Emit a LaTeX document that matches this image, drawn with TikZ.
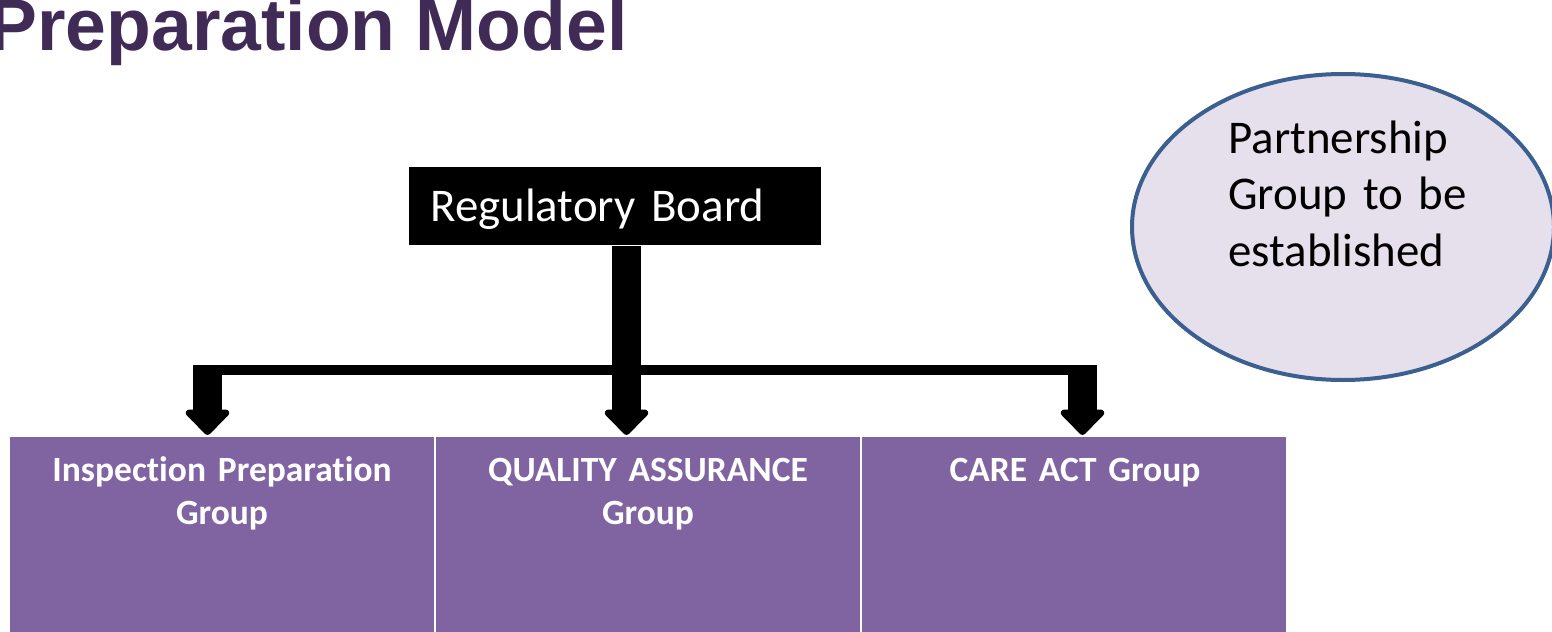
\documentclass[tikz,border=0pt]{standalone}
\usepackage{fontspec}
\setmainfont{Carlito}[Ligatures=NoCommon]
\newfontfamily\headfont{Liberation Sans}
\usetikzlibrary{arrows.meta,shapes.geometric}

\definecolor{headcol}{RGB}{64,43,87}
\definecolor{groupcol}{HTML}{8064A2}
\definecolor{partfill}{HTML}{E5E0EC}
\definecolor{partline}{HTML}{3B5F8F}

% one pixel of the slide
\newlength{\px}
\setlength{\px}{0.02cm}

\begin{document}
\begin{tikzpicture}[x=0.02cm, y=-0.02cm,
	group/.style={rectangle, fill=groupcol, inner sep=0, minimum width=424\px, minimum height=240\px, anchor=north west},
	grouplabel/.style={text=white, font=\fontsize{20.2pt}{24.5pt}\selectfont\bfseries, text width=410\px, align=center, inner sep=0, anchor=base},
	stem/.style={draw, line width=29\px, -{Triangle[width=1.02cm, length=0.54cm, round]}},
	bar/.style={draw, line width=10\px}]
			\clip (0, 0) rectangle (1552, 632);

			\draw (628, 51) node [anchor=base east, inner sep=0, text=headcol, font=\headfont\bfseries\fontsize{41.7pt}{50pt}\selectfont] (title) {Preparation Model};

			\draw (409, 167) node [rectangle, fill=black, text=white, anchor=north west, minimum width=412\px, minimum height=78\px, inner xsep=21\px, inner ysep=0, text width=370\px, text height=38\px, align=left, font=\fontsize{26.7pt}{32pt}\selectfont] (board) {Regulatory Board};

			\draw (1343, 227) node [ellipse, draw=partline, line width=4\px, fill=partfill, minimum width=422\px, minimum height=306\px, inner sep=0] (partner) {};
			\draw (1228, 153) node [anchor=base west, inner sep=0, text width=240\px, align=left, font=\fontsize{26.7pt}{32.4pt}\selectfont] (partnertext) {Partnership\\Group to be\\established};

			\draw (10, 437) node [group] (g1) {};
			\draw (436, 437) node [group] (g2) {};
			\draw (862, 437) node [group] (g3) {};
			\draw (222, 481) node [grouplabel] (g1text) {Inspection Preparation\\Group};
			\draw (648, 481) node [grouplabel] (g2text) {QUALITY ASSURANCE\\Group};
			\draw (1075, 481) node [grouplabel] (g3text) {CARE ACT Group};

			\coordinate (ta) at (207.5, 435);
			\coordinate (tb) at (626.5, 435);
			\coordinate (tc) at (1082.5, 435);
			\coordinate (ja) at (207.5, 365);
			\coordinate (jc) at (1082.5, 365);
			\coordinate (split) at (626.5, 370);
			\path (ta |- split) edge[bar] (tc |- split);
			\path (board.south -| tb) edge[stem] (tb);
			\path (ja) edge[stem] (ta);
			\path (jc) edge[stem] (tc);
		\end{tikzpicture}
\end{document}
